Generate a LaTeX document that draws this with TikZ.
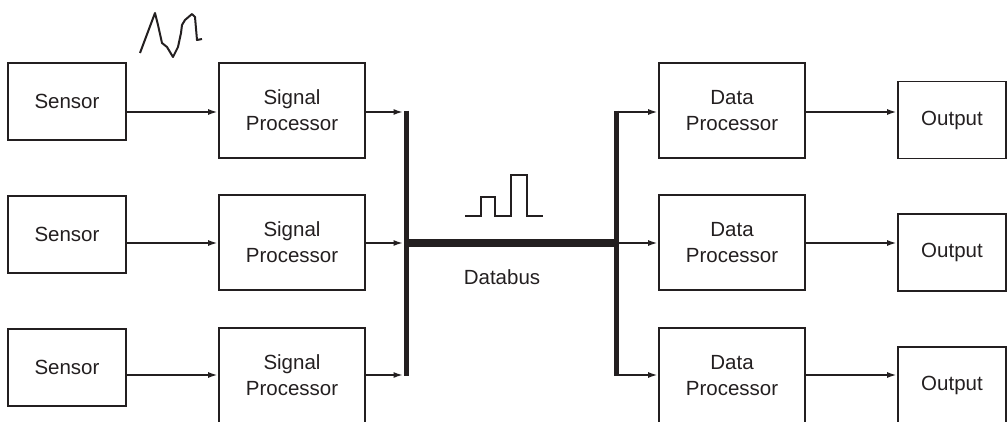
\documentclass[tikz,border=0pt]{standalone}
\usepackage{fontspec}
\setmainfont{Liberation Sans}
\usetikzlibrary{arrows.meta}
\definecolor{ink}{HTML}{231F20}
\begin{document}
\begin{tikzpicture}[x=1pt,y=-1pt,
  box/.style={draw=ink,line width=1.8pt,minimum width=#1,inner sep=0pt,align=center,
    font=\fontsize{20.5}{26}\selectfont,text=ink},
  arr/.style={draw=ink,line width=2.6pt,-{Latex[length=10pt,width=6pt]}},
  busv/.style={draw=ink,line width=5pt},
  bush/.style={draw=ink,line width=8pt},
  wave/.style={draw=ink,line width=2pt,line join=round},
  lbl/.style={font=\fontsize{20.5}{26}\selectfont,text=ink}]
\useasboundingbox (0,0) rectangle (1007,422);
% rows
\coordinate (r1) at (0,112);
\coordinate (r2) at (0,243);
\coordinate (r3) at (0,375);
% sensors
\node[box=118pt,minimum height=77pt] (s1) at (67,101.5) {Sensor};
\node[box=118pt,minimum height=77pt] (s2) at (67,234.5) {Sensor};
\node[box=118pt,minimum height=77pt] (s3) at (67,367.5) {Sensor};
% signal processors
\node[box=146pt,minimum height=95pt] (p1) at (292,110.5) {Signal\\Processor};
\node[box=146pt,minimum height=95pt] (p2) at (292,242.5) {Signal\\Processor};
\node[box=146pt,minimum height=95pt] (p3) at (292,375.5) {Signal\\Processor};
% data processors
\node[box=146pt,minimum height=95pt] (d1) at (732,110.5) {Data\\Processor};
\node[box=146pt,minimum height=95pt] (d2) at (732,242.5) {Data\\Processor};
\node[box=146pt,minimum height=95pt] (d3) at (732,375.5) {Data\\Processor};
% outputs
\node[box=108pt,minimum height=77pt] (o1) at (952,120) {Output};
\node[box=108pt,minimum height=77pt] (o2) at (952,252.5) {Output};
\node[box=108pt,minimum height=77pt] (o3) at (952,385.5) {Output};
% bus coordinates
\coordinate (bl1) at (406,110.7);
\coordinate (bl3) at (406,376.3);
\coordinate (br1) at (616,110.7);
\coordinate (br3) at (616,376.3);
\coordinate (bh1) at (404,243);
\coordinate (bh2) at (618,243);
% buses
\draw[busv] (bl1) -- (bl3);
\draw[busv] (br1) -- (br3);
\draw[bush] (bh1) -- (bh2);
% sensor -> signal
\draw[arr] (s1.east |- r1) -- (p1.west |- r1);
\draw[arr] (s2.east |- r2) -- (p2.west |- r2);
\draw[arr] (s3.east |- r3) -- (p3.west |- r3);
% signal -> bus
\draw[arr] (p1.east |- r1) -- ([xshift=-2.5pt]bl1 |- r1);
\draw[arr] (p2.east |- r2) -- ([xshift=-2.5pt]bl1 |- r2);
\draw[arr] (p3.east |- r3) -- ([xshift=-2.5pt]bl1 |- r3);
% bus -> data
\draw[arr] (br1 |- r1) -- (d1.west |- r1);
\draw[arr] (br1 |- r2) -- (d2.west |- r2);
\draw[arr] (br1 |- r3) -- (d3.west |- r3);
% data -> output
\draw[arr] (d1.east |- r1) -- (o1.west |- r1);
\draw[arr] (d2.east |- r2) -- (o2.west |- r2);
\draw[arr] (d3.east |- r3) -- (o3.west |- r3);
% analog squiggle
\draw[wave] (140,53) -- (155,13) -- (158,25) -- (162,43) -- (167,47) -- (173,57)
  -- (178,47) -- (181,33) -- (182,25) -- (185,20) -- (192,14) -- (195,17)
  -- (197,40) -- (202,39);
% digital pulses
\draw[wave,line join=miter] (465,216) -- (481,216) -- (481,197) -- (495,197) -- (495,216)
  -- (511,216) -- (511,175) -- (527,175) -- (527,216) -- (543,216);
\node[lbl] (db) at (502,277) {Databus};
\end{tikzpicture}
\end{document}
